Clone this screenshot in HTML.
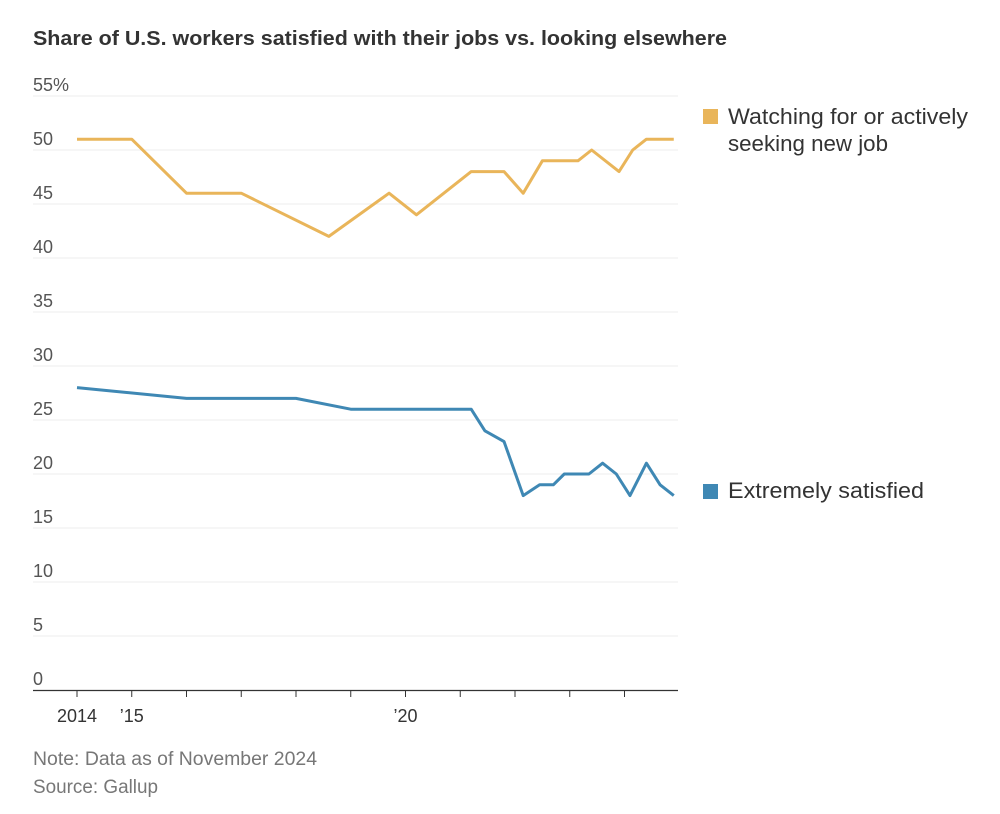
<!DOCTYPE html>
<html><head><meta charset="utf-8"><style>
body{margin:0;background:#fff;font-family:"Liberation Sans",sans-serif;}
svg{display:block}
</style></head><body>
<svg width="1000" height="814">
<text x="33" y="45" font-size="20" font-weight="bold" fill="#333" textLength="694" lengthAdjust="spacingAndGlyphs">Share of U.S. workers satisfied with their jobs vs. looking elsewhere</text>
<g id="grid"></g><g id="xax"></g><g id="lines"></g>
<g>
<rect x="703" y="109" width="15" height="15" fill="#e9b55a"/>
<text x="728" y="124" font-size="22" fill="#333" textLength="240" lengthAdjust="spacingAndGlyphs">Watching for or actively</text>
<text x="728" y="151" font-size="22" fill="#333" textLength="160" lengthAdjust="spacingAndGlyphs">seeking new job</text>
<rect x="703" y="484" width="15" height="15" fill="#3f88b4"/>
<text x="728" y="498" font-size="22" fill="#333" textLength="196" lengthAdjust="spacingAndGlyphs">Extremely satisfied</text>
</g>
<text x="33" y="765" font-size="19" fill="#777" textLength="284" lengthAdjust="spacingAndGlyphs">Note: Data as of November 2024</text>
<text x="33" y="793" font-size="19" fill="#777" textLength="125" lengthAdjust="spacingAndGlyphs">Source: Gallup</text>
</svg>
<script>
const yTicks=[0,5,10,15,20,25,30,35,40,45,50,55];
const xTickYears=[2014,2015,2016,2017,2018,2019,2020,2021,2022,2023,2024];
const xLabels={2014:"2014",2015:"\u201915",2020:"\u201920"};
const seekYears=[2014,2015,2016,2017,2018.6,2019.7,2020.2,2021.2,2021.8,2022.15,2022.5,2023.15,2023.4,2023.9,2024.15,2024.4,2024.9];
const seekVals=[51,51,46,46,42,46,44,48,48,46,49,49,50,48,50,51,51];
const satYears=[2014,2016,2018,2019,2021.2,2021.45,2021.8,2022.15,2022.45,2022.7,2022.9,2023.35,2023.6,2023.85,2024.1,2024.4,2024.65,2024.9];
const satVals=[28,27,27,26,26,24,23,18,19,19,20,20,21,20,18,21,19,18];
const NS="http://www.w3.org/2000/svg";
const x=v=>77+(v-2014)*54.75;
const y=v=>690-v*10.8;
function mk(t,a,p){const e=document.createElementNS(NS,t);for(const k in a)e.setAttribute(k,a[k]);p.appendChild(e);return e;}
const g=document.getElementById('grid');
yTicks.forEach(t=>{
 if(t>0){const l=mk('line',{x1:33,x2:678,y1:y(t),y2:y(t),stroke:'#ececec','stroke-width':1},g);
 
 }
 const tx=mk('text',{x:33,y:y(t)-5,'font-size':18,fill:'#555'},g);
 tx.textContent=t===55?'55%':String(t);
 
 
});
const xa=document.getElementById('xax');
const ax=mk('line',{x1:33,x2:678,y1:690.5,y2:690.5,stroke:'#333','stroke-width':1.2},xa);


xTickYears.forEach(yr=>{
 const l=mk('line',{x1:x(yr),x2:x(yr),y1:690,y2:697,stroke:'#333','stroke-width':1},xa);
 
 
 if(xLabels[yr]){const t=mk('text',{x:x(yr),y:722,'font-size':18,fill:'#333','text-anchor':'middle'},xa);
 t.textContent=xLabels[yr];
 
 }
});
const L=document.getElementById('lines');
function line(xs,vs,c,n){const p=mk('polyline',{points:xs.map((a,i)=>x(a)+','+y(vs[i])).join(' '),fill:'none',stroke:c,'stroke-width':3,'stroke-linejoin':'round'},L);

}
line(seekYears,seekVals,'#e9b55a','line-seeking-new-job');
line(satYears,satVals,'#3f88b4','line-extremely-satisfied');
</script>
</body></html>
